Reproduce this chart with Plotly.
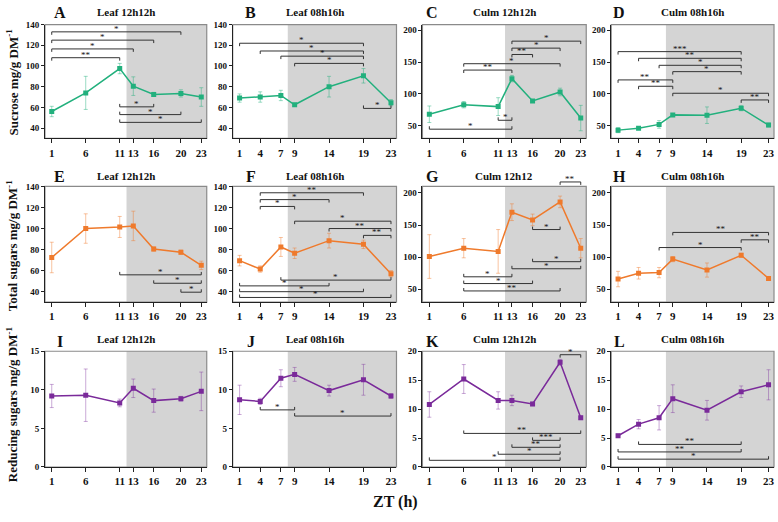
import plotly.graph_objects as go

W, H = 778, 522

# ---------------- data ----------------
x12 = [1, 6, 11, 13, 16, 20, 23]
x08 = [1, 4, 7, 9, 14, 19, 23]

suc_leaf12 = [56, 74, 97.5, 80.5, 72.5, 73.5, 70]
suc_leaf12_err = [5, 16, 5, 9, 2, 3.5, 9]
suc_leaf08 = [69, 70, 71.5, 62.5, 80, 90.5, 64.5]
suc_leaf08_err = [4, 5, 5, 1.5, 10, 7, 3]
suc_culm12 = [68, 83, 80, 124, 89, 103, 62]
suc_culm12_err = [13, 5, 14, 5, 2, 6, 20]
suc_culm08 = [43, 46, 52, 67, 66.5, 77.5, 51]
suc_culm08_err = [4, 2, 6, 2, 13, 4, 3]

tot_leaf12 = [72.5, 100, 101.5, 102.5, 80.5, 77.5, 65]
tot_leaf12_err = [14.5, 14, 10, 14, 2, 2, 4]
tot_leaf08 = [69.5, 61.5, 82.5, 76.5, 88.5, 85, 57]
tot_leaf08_err = [5, 3, 9, 5, 7, 4, 3]
tot_culm12 = [101, 114, 109, 170, 158, 186, 114]
tot_culm12_err = [34, 15, 34, 13, 9, 9, 15]
tot_culm08 = [66, 75, 76, 97, 80, 103, 67]
tot_culm08_err = [12, 9, 8, 4, 11, 3, 3]

red_leaf12 = [9.2, 9.3, 8.3, 10.2, 8.6, 8.85, 9.8]
red_leaf12_err = [1.5, 3.4, 0.5, 1.2, 1.5, 0.3, 2.5]
red_leaf08 = [8.7, 8.5, 11.5, 12, 9.9, 11.3, 9.2]
red_leaf08_err = [1.9, 0.4, 1.1, 0.9, 0.7, 2, 0.3]
red_culm12 = [10.8, 15.2, 11.5, 11.5, 10.9, 18.1, 8.5]
red_culm12_err = [2.2, 2.5, 1.5, 0.9, 0.3, 0.5, 0.3]
red_culm08 = [5.4, 7.4, 8.5, 11.8, 9.8, 13, 14.2]
red_culm08_err = [0.3, 0.8, 2.1, 2.4, 1.7, 1, 2.6]

panel_letters = ["A", "B", "C", "D", "E", "F", "G", "H", "I", "J", "K", "L"]
panel_titles = ["Leaf 12h12h", "Leaf 08h16h", "Culm 12h12h", "Culm 08h16h",
                "Leaf 12h12h", "Leaf 08h16h", "Culm 12h12", "Culm 08h16h",
                "Leaf 12h12h", "Leaf 08h16h", "Culm 12h12h", "Culm 08h16h"]
row_titles = ["Sucrose mg/g DM<sup>-1</sup>", "Total sugars mg/g DM<sup>-1</sup>",
              "Reducing sugars mg/g DM<sup>-1</sup>"]

# significance brackets: (x1, x2, y, label, tick direction)
br_A = [(1, 20, 133, "*", "d"), (1, 16, 125, "*", "d"), (1, 13, 116.5, "*", "d"),
        (1, 11, 108, "**", "d"), (11, 16, 60.5, "*", "u"), (11, 20, 53, "*", "u"),
        (11, 23, 45.5, "*", "u")]
br_B = [(1, 19, 122, "*", "d"), (4, 19, 114.5, "*", "d"), (7, 19, 109.5, "*", "d"),
        (9, 19, 102.5, "*", "d"), (19, 23, 59, "*", "u")]
br_C = [(13, 23, 183, "*", "d"), (13, 20, 172, "*", "d"), (13, 16, 162, "**", "d"),
        (6, 20, 147.5, "*", "d"), (6, 13, 137.5, "**", "d"), (11, 13, 58.5, "*", "u"),
        (1, 13, 44.5, "*", "u")]
br_D = [(1, 19, 166.5, "***", "d"), (4, 19, 156, "**", "d"), (7, 19, 145, "*", "d"),
        (9, 19, 135, "*", "d"), (1, 9, 122, "**", "d"), (4, 9, 112, "**", "d"),
        (9, 23, 101, "*", "d"), (19, 23, 90.5, "**", "d")]
br_E = [(11, 23, 56, "*", "u"), (16, 23, 48, "*", "u"), (20, 23, 39.5, "*", "u")]
br_F = [(4, 19, 134, "**", "d"), (4, 14, 127.5, "*", "d"), (4, 9, 121, "*", "d"),
        (9, 23, 107, "*", "d"), (14, 23, 100, "**", "d"), (19, 23, 93.5, "**", "d"),
        (7, 23, 51, "*", "u"), (1, 14, 45.5, "*", "u"), (1, 19, 40, "*", "u"),
        (1, 23, 34.5, "*", "u")]
br_G = [(20, 23, 217, "**", "d"), (16, 20, 143, "*", "u"), (16, 23, 93, "*", "u"),
        (13, 23, 82, "*", "u"), (6, 13, 69.5, "*", "u"), (6, 16, 59, "*", "u"),
        (6, 20, 47.5, "**", "u")]
br_H = [(9, 23, 138.5, "**", "d"), (19, 23, 127, "**", "d"), (7, 19, 115, "*", "d")]
br_I = []
br_J = [(4, 9, 7.4, "*", "u"), (9, 23, 6.6, "*", "u")]
br_K = [(20, 23, 19.4, "*", "d"), (6, 23, 5.8, "**", "u"), (16, 20, 4.6, "***", "u"),
        (13, 20, 3.4, "**", "u"), (11, 20, 2.2, "*", "u"), (1, 20, 1.15, "*", "u")]
br_L = [(4, 19, 3.9, "**", "u"), (1, 19, 2.6, "**", "u"), (1, 23, 1.35, "*", "u")]

# ---------------- styling ----------------
GREEN, GREEN_E = "#22b07d", "rgba(34,176,125,0.45)"
ORANGE, ORANGE_E = "#ef7a2c", "rgba(239,122,44,0.45)"
PURPLE, PURPLE_E = "#7a2a9a", "rgba(122,42,154,0.4)"
SHADE = "#d4d4d4"
FONT = "Liberation Serif"


def px_x(px):
    return px / W


def px_y(py):
    return 1 - py / H


cols_px = [(45, 207), (233, 397), (423, 587), (612, 775)]
rows_px = [(20, 136), (185, 303), (353, 471)]
letter_dx = [15, 18, 10, 8]
title_py = [7, 174, 341]
letter_py = [8, 175, 343]

xs = [x12, x08, x12, x08] * 3
ys = [suc_leaf12, suc_leaf08, suc_culm12, suc_culm08,
      tot_leaf12, tot_leaf08, tot_culm12, tot_culm08,
      red_leaf12, red_leaf08, red_culm12, red_culm08]
es = [suc_leaf12_err, suc_leaf08_err, suc_culm12_err, suc_culm08_err,
      tot_leaf12_err, tot_leaf08_err, tot_culm12_err, tot_culm08_err,
      red_leaf12_err, red_leaf08_err, red_culm12_err, red_culm08_err]
brs = [br_A, br_B, br_C, br_D, br_E, br_F, br_G, br_H, br_I, br_J, br_K, br_L]
yranges = [(30, 140), (30, 140), (30, 209), (30, 209),
           (30, 140), (30, 140), (30, 210), (30, 210),
           (0, 15), (0, 15), (0, 20), (0, 20)]
ydticks = [20, 20, 50, 50, 20, 20, 50, 50, 5, 5, 5, 5]
ytick0 = [40, 40, 50, 50, 40, 40, 50, 50, 0, 0, 0, 0]
shade_start = [12, 8, 12, 8] * 3
row_colors = [(GREEN, GREEN_E), (ORANGE, ORANGE_E), (PURPLE, PURPLE_E)]
XR = (0, 23.8)

fig = go.Figure()
shapes, annos = [], []

for i in range(12):
    r, c = divmod(i, 4)
    n = "" if i == 0 else str(i + 1)
    xa, ya = "x" + n, "y" + n
    col, ecol = row_colors[r]
    fig.add_trace(go.Scatter(
        x=xs[i], y=ys[i], mode="lines+markers", xaxis=xa, yaxis=ya,
        line=dict(color=col, width=1.5),
        marker=dict(symbol="square", size=5, color=col),
        error_y=dict(type="data", array=es[i], color=ecol, thickness=1, width=2),
        showlegend=False, hoverinfo="skip"))
    x0p, x1p = cols_px[c]
    y0p, y1p = rows_px[r]
    fig.layout["xaxis" + n] = dict(
        domain=[px_x(x0p), px_x(x1p)], anchor=ya, range=list(XR),
        tickmode="array", tickvals=xs[i], ticks="outside", ticklen=4,
        tickcolor="#222", showline=True, linecolor="#222", linewidth=1,
        showgrid=False, zeroline=False,
        tickfont=dict(family=FONT, size=11, color="#111", weight="bold"))
    fig.layout["yaxis" + n] = dict(
        domain=[px_y(y1p), px_y(y0p)], anchor=xa, range=list(yranges[i]),
        tick0=ytick0[i], dtick=ydticks[i], ticks="outside", ticklen=3,
        tickcolor="#222", showline=True, linecolor="#222", linewidth=1,
        showgrid=False, zeroline=False,
        tickfont=dict(family=FONT, size=9, color="#111", weight="bold"))
    # dark phase shading
    shapes.append(dict(type="rect", xref=xa, yref=ya + " domain",
                       x0=shade_start[i], x1=XR[1], y0=0, y1=1,
                       fillcolor=SHADE, line=dict(width=0), layer="below"))
    # frame
    shapes.append(dict(type="rect", xref=xa + " domain", yref=ya + " domain",
                       x0=0, x1=1, y0=0, y1=1, line=dict(color="#8a8a8a", width=1.2),
                       fillcolor="rgba(0,0,0,0)", layer="below"))
    # brackets
    y_lo, y_hi = yranges[i]
    tick = 3.0 / (y1p - y0p)
    for (b1, b2, by, lab, d) in brs[i]:
        f = (by - y_lo) / (y_hi - y_lo)
        ft = f - tick if d == "d" else f + tick
        shapes.append(dict(type="path", xref=xa, yref=ya + " domain",
                           path=f"M {b1},{ft} L {b1},{f} L {b2},{f} L {b2},{ft}",
                           line=dict(color="#333", width=1)))
        annos.append(dict(x=(b1 + b2) / 2, y=f, xref=xa, yref=ya + " domain",
                          text=lab, showarrow=False, yanchor="middle", yshift=3,
                          font=dict(family=FONT, size=9, color="#111")))
    # titles and letters
    annos.append(dict(x=px_x((x0p + x1p) / 2), y=px_y(title_py[r]), xref="paper", yref="paper",
                      text=panel_titles[i], showarrow=False, xanchor="center", yanchor="middle",
                      font=dict(family=FONT, size=11, color="#111", weight="bold")))
    annos.append(dict(x=px_x(x0p + letter_dx[c]), y=px_y(letter_py[r]), xref="paper", yref="paper",
                      text=panel_letters[i], showarrow=False, xanchor="center", yanchor="middle",
                      font=dict(family=FONT, size=16, color="#111", weight="bold")))

row_title_py = [78, 245, 407]
for r in range(3):
    annos.append(dict(x=px_x(12), y=px_y(row_title_py[r]), xref="paper", yref="paper",
                      text=row_titles[r], showarrow=False, textangle=-90,
                      xanchor="center", yanchor="middle",
                      font=dict(family=FONT, size=13, color="#111", weight="bold")))

annos.append(dict(x=px_x(396), y=px_y(507), xref="paper", yref="paper", text="ZT (h)",
                  showarrow=False, xanchor="center", yanchor="middle",
                  font=dict(family=FONT, size=16, color="#111", weight="bold")))

fig.update_layout(width=W, height=H, margin=dict(l=0, r=0, t=0, b=0),
                  paper_bgcolor="white", plot_bgcolor="white",
                  shapes=shapes, annotations=annos)
fig.write_html("out.html", config={"displayModeBar": False},
               post_script="document.body.style.margin='0';document.body.style.overflow='hidden';")
